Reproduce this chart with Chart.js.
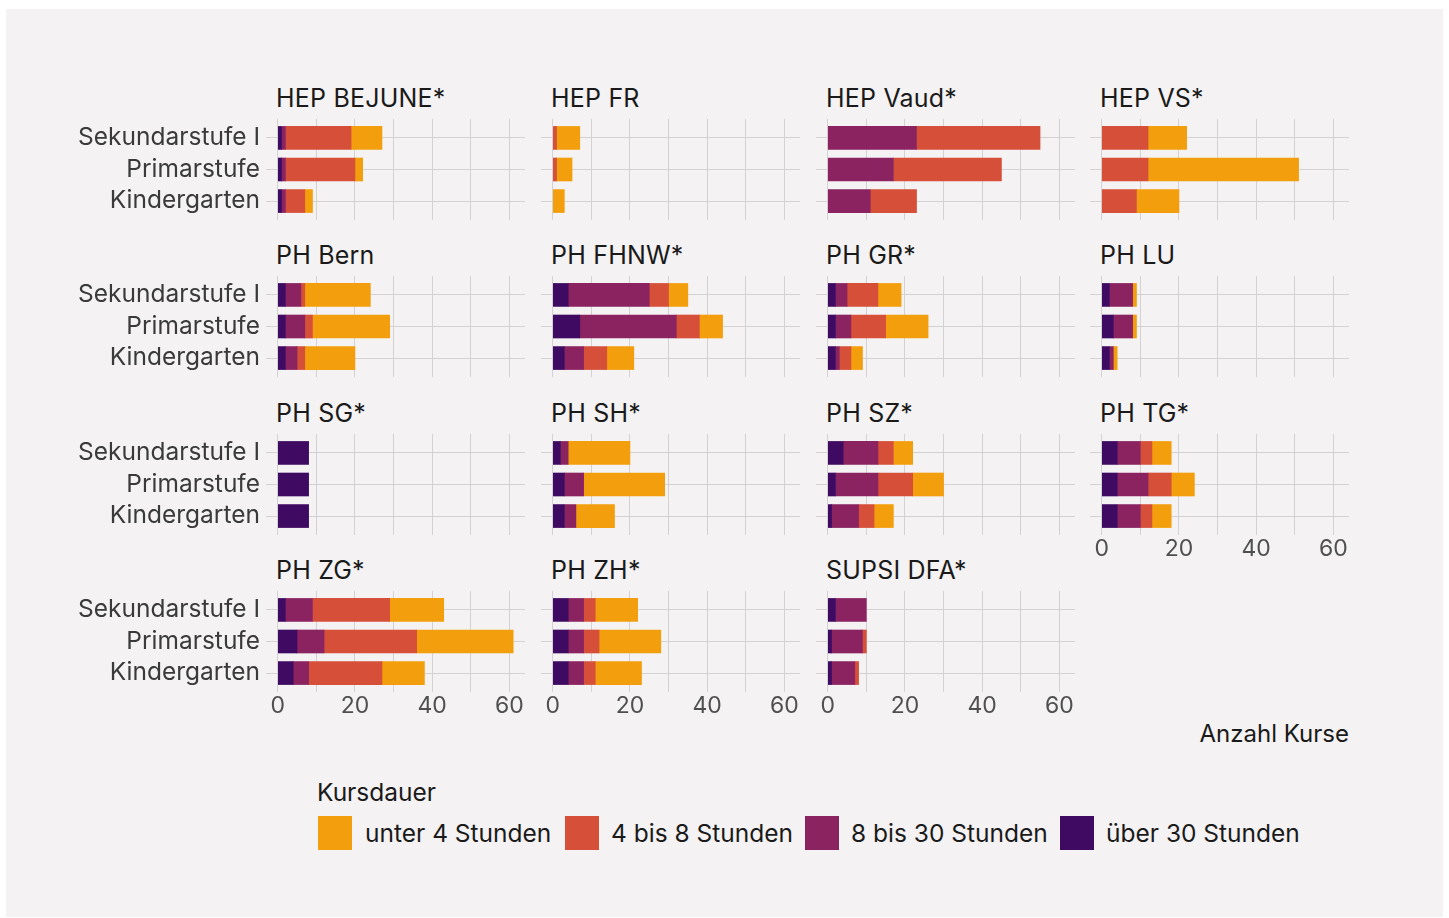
<!DOCTYPE html>
<html><head><meta charset="utf-8">
<script src="https://cdn.jsdelivr.net/npm/chart.js@4.4.1/dist/chart.umd.min.js"></script>
<style>
html,body{margin:0;padding:0;background:#fff;width:1449px;height:918px;overflow:hidden;font-family:Inter,sans-serif;}
#bg{position:absolute;left:6px;top:9px;width:1437px;height:908px;background:#f4f2f3;}
canvas{position:absolute;}
.t{position:absolute;font-size:24.5px;line-height:25px;color:#1a1a1a;white-space:nowrap;}
.ttl{font-size:25px;letter-spacing:0.2px;}
.sw{position:absolute;width:34px;height:34px;}
</style></head><body>
<div id="bg"></div>
<script>
// ---- data ----
const institutions = ["HEP BEJUNE*","HEP FR","HEP Vaud*","HEP VS*","PH Bern","PH FHNW*","PH GR*","PH LU","PH SG*","PH SH*","PH SZ*","PH TG*","PH ZG*","PH ZH*","SUPSI DFA*"];
const levels = ["Sekundarstufe I","Primarstufe","Kindergarten"];
const seriesNames = ["über 30 Stunden","8 bis 30 Stunden","4 bis 8 Stunden","unter 4 Stunden"];
// values per institution: [Sekundarstufe I, Primarstufe, Kindergarten]
const ueber30 = [[1,1,1],[0,0,0],[0,0,0],[0,0,0],[2,2,2],[4,7,3],[2,2,2],[2,3,2],[8,8,8],[2,3,3],[4,2,1],[4,4,4],[2,5,4],[4,4,4],[2,1,1]];
const std8bis30 = [[1,1,1],[0,0,0],[23,17,11],[0,0,0],[4,5,3],[21,25,5],[3,4,1],[6,5,1],[0,0,0],[2,5,3],[9,11,7],[6,8,6],[7,7,4],[4,4,4],[8,8,6]];
const std4bis8 = [[17,18,5],[1,1,0],[32,28,12],[12,12,9],[1,2,2],[5,6,6],[8,9,3],[0,0,0],[0,0,0],[0,0,0],[4,9,4],[3,6,3],[20,24,19],[3,4,3],[0,1,1]];
const unter4 = [[8,2,2],[6,4,3],[0,0,0],[10,39,11],[17,20,13],[5,6,7],[6,11,3],[1,1,1],[0,0,0],[16,21,10],[5,8,5],[5,6,5],[14,25,11],[11,16,12],[0,0,0]];
const xTicks = [0,10,20,30,40,50,60];
const xTickLabels = ["0","","20","","40","","60"];
const seriesColors = ["#3e0a62","#8a2360","#d54f39","#f39e0d"];

// ---- layout ----
const chartLeft = [266,541,816,1090];
const chartTop = [119,276,434,591];
const PW = 259, PH = 101;
const FONT = "Inter";
const GRID = '#d3d1d2';

function addText(txt, left, top, extra, cls){
  const d=document.createElement('div'); d.className='t'+(cls?' '+cls:''); d.textContent=txt;
  d.style.left=left+'px'; d.style.top=top+'px';
  if(extra) Object.assign(d.style, extra);
  document.body.appendChild(d); return d;
}

const allSeries = [ueber30, std8bis30, std4bis8, unter4];

institutions.forEach((name,i)=>{
  const col=i%4, row=Math.floor(i/4);
  const bottom = i+4>=institutions.length;
  const yw = col===0?210:0;
  const xh = bottom?40:0;
  const cv=document.createElement('canvas');
  cv.width=PW+yw; cv.height=PH+xh;
  cv.style.width=cv.width+'px'; cv.style.height=cv.height+'px';
  cv.style.left=(chartLeft[col]-yw)+'px'; cv.style.top=chartTop[row]+'px';
  document.body.appendChild(cv);
  addText(name, chartLeft[col]+10, chartTop[row]-33.5, null, 'ttl');
  new Chart(cv,{
    type:'bar',
    data:{datasets: seriesNames.map((s,k)=>({
      label:s, backgroundColor:seriesColors[k], borderWidth:0, inflateAmount:0.3,
      data: allSeries[k][i].map((v,j)=>({y:j, x: v===0?null:v}))
    }))},
    options:{
      responsive:false, animation:false, devicePixelRatio:1, indexAxis:'y',
      layout:{padding:0},
      datasets:{bar:{barPercentage:0.73, categoryPercentage:1}},
      plugins:{legend:{display:false}, tooltip:{enabled:false}, title:{display:false}},
      scales:{
        x:{type:'linear', stacked:true, min:-3.05, max:64.05, offset:false,
           afterBuildTicks:s=>{s.ticks=xTicks.map(v=>({value:v}));},
           afterFit:s=>{s.height=xh; s.paddingLeft=0; s.paddingRight=0;},
           grid:{color:GRID, lineWidth:1, drawTicks:false, offset:false},
           border:{display:false},
           ticks:{display:bottom, autoSkip:false, maxRotation:0, padding:0,
             callback:(v)=>xTickLabels[xTicks.indexOf(v)],
             font:{family:FONT,size:23}, color:'#4f4f4f'}},
        y:{type:'linear', stacked:true, reverse:true, min:-0.6, max:2.6, offset:false,
           afterBuildTicks:s=>{s.ticks=levels.map((l,j)=>({value:j}));},
           afterFit:s=>{s.width=yw; s.paddingTop=0; s.paddingBottom=0;},
           grid:{color:GRID, lineWidth:1, drawTicks:false, offset:false},
           border:{display:false},
           ticks:{display:col===0, autoSkip:false, padding:6,
             callback:(v)=>levels[v],
             font:{family:FONT,size:24.5}, color:'#3a3a3a'}}
      }
    }
  });
});

// axis title
addText("Anzahl Kurse", 0, 721, {left:'auto', right:(1449-1349)+'px', fontSize:'24px'});
// legend
addText("Kursdauer", 317, 780);
const swLeft=[318,565,805,1060], labLeft=[365,611,851,1106];
const legendOrder=[3,2,1,0];
legendOrder.forEach((k,n)=>{
  const s=document.createElement('div'); s.className='sw';
  s.style.left=swLeft[n]+'px'; s.style.top='816px'; s.style.background=seriesColors[k];
  document.body.appendChild(s);
  addText(seriesNames[k], labLeft[n], 821);
});
</script>
</body></html>
